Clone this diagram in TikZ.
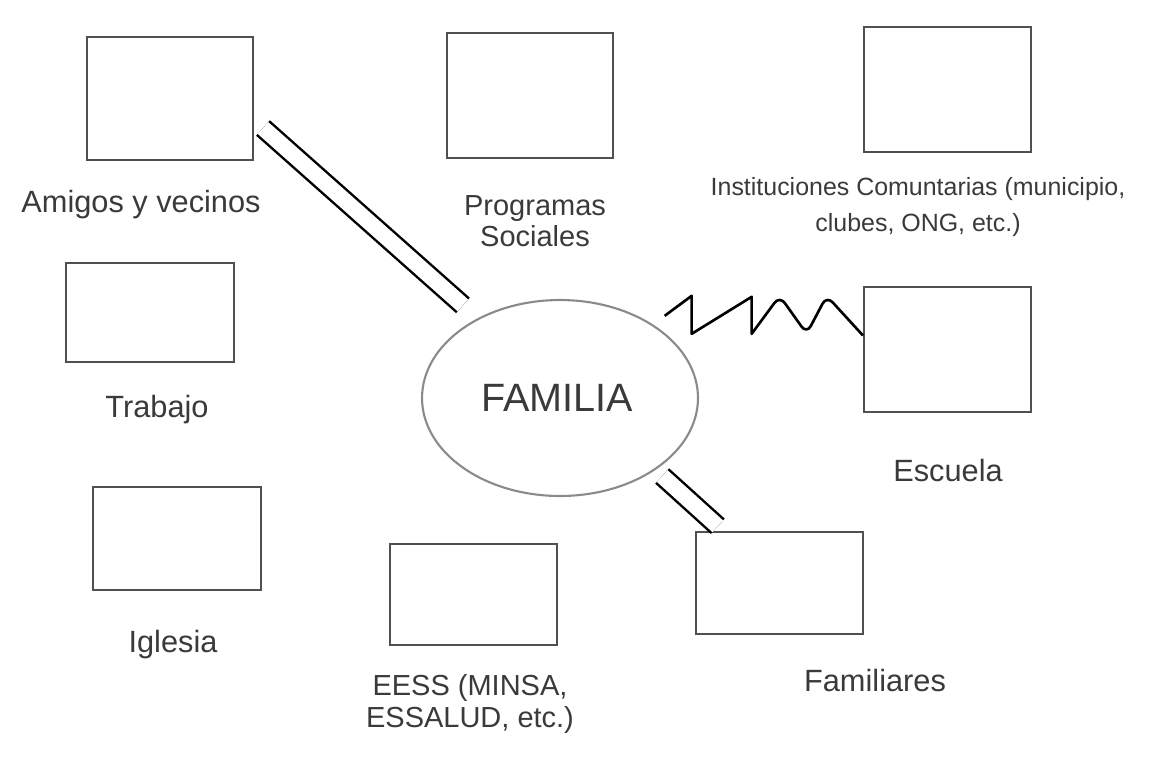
\documentclass[tikz,border=0pt]{standalone}
\usepackage{fontspec}
\setmainfont{Liberation Sans}
\usetikzlibrary{shapes}

\definecolor{boxgray}{HTML}{505050}
\definecolor{ovalgray}{HTML}{8A8A8A}
\definecolor{textgray}{HTML}{3A3A3A}

\begin{document}
\begin{tikzpicture}[x=0.02cm, y=-0.02cm]
\tikzstyle{caja}=[rectangle, draw=boxgray, line width=1.2pt, inner sep=0pt]
\tikzstyle{ovalo}=[ellipse, draw=ovalgray, line width=1.2pt, inner sep=0pt, minimum width=5.52cm, minimum height=3.92cm]
\tikzstyle{etiq}=[text=textgray, align=center, inner sep=0pt, font=\fontsize{17.5}{21}\selectfont]
\tikzstyle{etiqs}=[etiq, font=\fontsize{16.5}{18}\selectfont]
\tikzstyle{dobleline}=[double distance=9pt, line width=1.4pt, draw=black]
\tikzstyle{onda}=[line width=1.5pt, draw=black, line join=round]

\useasboundingbox (0,0) rectangle (1155,771);

\node[caja, minimum width=3.32cm, minimum height=2.46cm] (amigos) at (170,98.5) {};
\node[caja, minimum width=3.32cm, minimum height=2.5cm] (programas) at (530,95.5) {};
\node[caja, minimum width=3.34cm, minimum height=2.5cm] (instituciones) at (947.5,89.5) {};
\node[caja, minimum width=3.36cm, minimum height=1.98cm] (trabajo) at (150,312.5) {};
\node[caja, minimum width=3.34cm, minimum height=2.5cm] (escuela) at (947.5,349.5) {};
\node[caja, minimum width=3.36cm, minimum height=2.06cm] (iglesia) at (177,538.5) {};
\node[caja, minimum width=3.34cm, minimum height=2.02cm] (eess) at (473.5,594.5) {};
\node[caja, minimum width=3.34cm, minimum height=2.04cm] (familiares) at (779.5,583) {};
\node[ovalo] (familia) at (560,398) {};

\node[etiq, font=\fontsize{22.5}{26}\selectfont] (tfamilia) at (557,398) {FAMILIA};
\node[etiq] (tamigos) at (141,205) {Amigos y vecinos};
\node[etiqs] (tprogramas) at (535,221) {Programas\\Sociales};
\node[etiq, font=\fontsize{14.2}{21}\selectfont] (tinstituciones) at (918,207) {Instituciones Comuntarias (municipio,\\clubes, ONG, etc.)};
\node[etiq] (ttrabajo) at (157,410) {Trabajo};
\node[etiq] (tescuela) at (948,470) {Escuela};
\node[etiq] (tiglesia) at (173,645) {Iglesia};
\node[etiqs] (teess) at (470,704) {EESS (MINSA,\\ESSALUD, etc.)};
\node[etiq] (tfamiliares) at (875,680) {Familiares};

\coordinate (c1) at (263,128);
\draw[dobleline, shorten >=0.39cm] (c1) -- (familia.136);
\draw[dobleline, shorten <=0.18cm, shorten >=0.14cm] (familia.-37) -- ([xshift=0.56cm]familiares.north west);
\draw[onda] ([shift={(11,-9)}]familia.38) -- ++(27,-20) -- ++(0,38) -- ++(60,-37) -- ++(0,37)
  [rounded corners=5pt] -- ++(28,-38) -- ++(27,38) -- ++(20,-38) -- ([shift={(0,-14)}]escuela.west);
\end{tikzpicture}
\end{document}
